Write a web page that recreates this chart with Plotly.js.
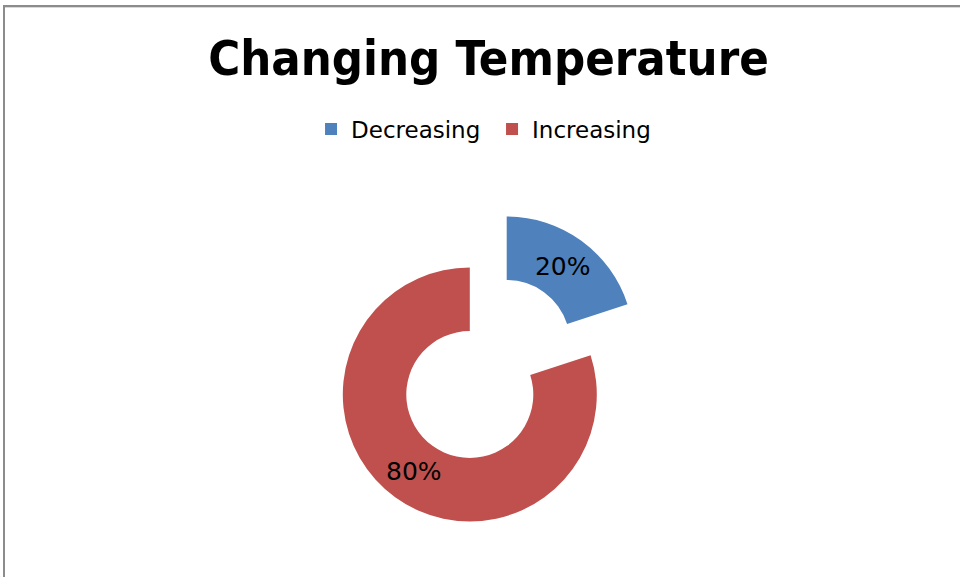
<!DOCTYPE html>
<html>
<head>
<meta charset="utf-8">
<script src="https://cdn.plot.ly/plotly-3.0.1.min.js"></script>
<style>
  html, body { margin: 0; padding: 0; background: #ffffff; overflow: hidden; }
  #chart { position: absolute; left: 0; top: 0; width: 960px; height: 577px; }
  #frameLeft { position: absolute; left: 3px; top: 5px; width: 2px; height: 580px; background: #8c8c8c; }
  #frameTop { position: absolute; left: 3px; top: 5px; width: 960px; height: 2px; background: #8c8c8c; }
  #frameTop2 { position: absolute; left: 5px; top: 7px; width: 960px; height: 1px; background: #d9d9d9; }
</style>
</head>
<body>
<div id="chart"></div>
<div id="frameLeft"></div>
<div id="frameTop"></div>
<div id="frameTop2"></div>
<script>
// ---- data ----
var categories = ["Decreasing", "Increasing"];
var shares = [20, 80];
var sliceColors = ["#4F81BD", "#C0504D"];
var chartTitle = "Changing Temperature";

var transparent = "rgba(0,0,0,0)";
var labelFont = { family: "DejaVu Sans, Verdana, sans-serif", size: 25, color: "#000000" };

// legend-only carrier (tiny, effectively invisible)
var legendTrace = {
  type: "pie",
  labels: categories,
  values: shares,
  sort: false,
  direction: "clockwise",
  rotation: 0,
  marker: { colors: sliceColors, line: { width: 0 } },
  textinfo: "none",
  hoverinfo: "skip",
  showlegend: true,
  domain: { x: [0, 0.0004], y: [0, 0.0004] }
};

// exploded "Decreasing" slice
var explodedTrace = {
  type: "pie",
  labels: categories,
  values: shares,
  sort: false,
  direction: "clockwise",
  rotation: 0,
  hole: 0.5,
  marker: { colors: [sliceColors[0], transparent], line: { width: 0 } },
  texttemplate: ["%{percent}", ""],
  textposition: "inside",
  insidetextorientation: "horizontal",
  insidetextfont: labelFont,
  hoverinfo: "label+percent",
  showlegend: false,
  domain: { x: [0.39552, 0.66010], y: [0.18458, 0.62478] }
};

// remaining ring ("Increasing")
var ringTrace = {
  type: "pie",
  labels: categories,
  values: shares,
  sort: false,
  direction: "clockwise",
  rotation: 0,
  hole: 0.5,
  marker: { colors: [transparent, sliceColors[1]], line: { width: 0 } },
  texttemplate: ["", "%{percent}"],
  textposition: "inside",
  insidetextorientation: "horizontal",
  insidetextfont: labelFont,
  hoverinfo: "label+percent",
  showlegend: false,
  domain: { x: [0.35708, 0.62167], y: [0.09619, 0.53640] }
};

var layout = {
  width: 960,
  height: 577,
  margin: { l: 0, r: 0, t: 0, b: 0 },
  paper_bgcolor: "#ffffff",
  plot_bgcolor: "#ffffff",
  title: {
    text: "<b>" + chartTitle + "</b>",
    font: { family: "DejaVu Sans Condensed, DejaVu Sans, Verdana, sans-serif", size: 48.5, color: "#000000" },
    x: 0.5089,
    xanchor: "center",
    xref: "paper",
    y: 0.8995,
    yref: "container",
    yanchor: "middle"
  },
  showlegend: true,
  legend: {
    orientation: "h",
    x: 0.324,
    xanchor: "left",
    y: 0.7765,
    yanchor: "middle",
    entrywidth: 136,
    entrywidthmode: "pixels",
    font: { family: "DejaVu Sans, Verdana, sans-serif", size: 23, color: "#000000" },
    bgcolor: "rgba(0,0,0,0)",
    traceorder: "normal"
  }
};

Plotly.newPlot("chart", [legendTrace, explodedTrace, ringTrace], layout, { displayModeBar: false, staticPlot: false });
</script>
</body>
</html>
